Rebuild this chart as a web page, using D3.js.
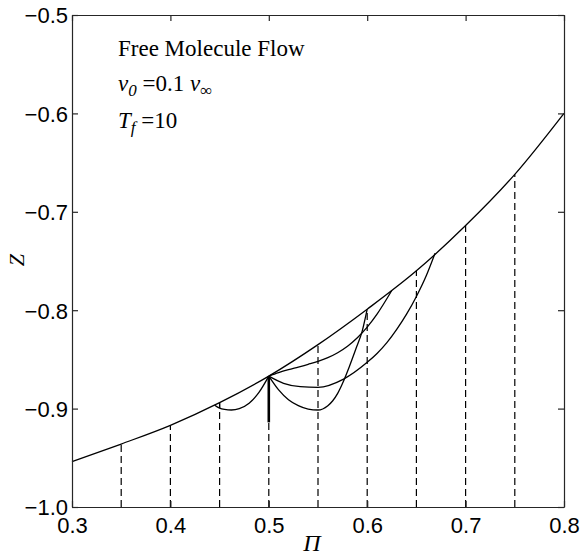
<!DOCTYPE html>
<html>
<head>
<meta charset="utf-8">
<script src="https://cdn.jsdelivr.net/npm/d3@7"></script>
<style>
  body { margin: 0; background: #fff; }
  svg { display: block; }
</style>
</head>
<body>
<script>
// Chart data

// outer envelope curve
const piTop = [0.30, 0.35, 0.40, 0.45, 0.50, 0.55, 0.60, 0.65, 0.70, 0.75, 0.80];
const zTop = [-0.954, -0.936, -0.917, -0.894, -0.867, -0.835, -0.799, -0.760, -0.714, -0.662, -0.600];

// small arc 0.45 -> 0.5
const piArcA = [0.445, 0.45, 0.455, 0.462, 0.47, 0.48, 0.49, 0.50];
const zArcA = [-0.8965, -0.8995, -0.9008, -0.9014, -0.9000, -0.8945, -0.8835, -0.867];

// deep arc 0.5 -> 0.6
const piArcB = [0.50, 0.51, 0.52, 0.53, 0.54, 0.55, 0.56, 0.565, 0.57, 0.576, 0.582, 0.589, 0.595, 0.60];
const zArcB = [-0.867, -0.881, -0.891, -0.897, -0.9005, -0.9014, -0.897, -0.892, -0.8845, -0.872, -0.857, -0.838, -0.821, -0.799];

// middle arc 0.5 -> 0.67
const piArcC = [0.50, 0.515, 0.532, 0.55, 0.576, 0.60, 0.61, 0.62, 0.63, 0.64, 0.65, 0.66, 0.669];
const zArcC = [-0.867, -0.8743, -0.8777, -0.8784, -0.870, -0.853, -0.844, -0.833, -0.8195, -0.804, -0.786, -0.765, -0.742];

// gentle arc 0.5 -> 0.625
const piArcD = [0.50, 0.51, 0.52, 0.53, 0.54, 0.55, 0.56, 0.57, 0.58, 0.59, 0.60, 0.61, 0.625];
const zArcD = [-0.867, -0.8635, -0.8605, -0.8578, -0.855, -0.852, -0.8482, -0.8432, -0.8366, -0.828, -0.8172, -0.804, -0.780];

// dashed verticals
const piDash = [0.35, 0.40, 0.45, 0.50, 0.55, 0.60, 0.65, 0.70, 0.75];
// solid segments at the launch points
const piSolid = [0.45, 0.50];
const zSolidLow = [-0.8995, -0.914];

const xTicks = [0.3, 0.4, 0.5, 0.6, 0.7, 0.8];
const yTicks = [-1.0, -0.9, -0.8, -0.7, -0.6, -0.5];

// SVG setup
const width = 582;
const height = 555;
const margin = {top: 15, right: 18, bottom: 48, left: 72};

const svg = d3.select('body')
.append('svg')
.attr('width', width)
.attr('height', height);

const xScale = d3.scaleLinear()
.domain([0.3, 0.8])
.range([margin.left, width - margin.right]);

const yScale = d3.scaleLinear()
.domain([-1.0, -0.5])
.range([height - margin.bottom, margin.top]);

const topAt = d3.scaleLinear().domain(piTop).range(zTop);

const line = d3.line()
.x(d => xScale(d[0]))
.y(d => yScale(d[1]))
.curve(d3.curveMonotoneX);

const zip = (a, b) => a.map((v, i) => [v, b[i]]);

// dashed verticals
svg.append('g')
.selectAll('line')
.data(piDash)
.enter()
.append('line')
.attr('x1', d => xScale(d))
.attr('x2', d => xScale(d))
.attr('y1', yScale(-1.0))
.attr('y2', d => yScale(topAt(d)))
.attr('stroke', '#000')
.attr('stroke-width', 1.2)
.attr('stroke-dasharray', '7,4');

// solid launch segments
svg.append('g')
.selectAll('line')
.data(piSolid)
.enter()
.append('line')
.attr('x1', d => xScale(d))
.attr('x2', d => xScale(d))
.attr('y1', d => yScale(topAt(d)))
.attr('y2', (d, i) => yScale(zSolidLow[i]))
.attr('stroke', '#000')
.attr('stroke-width', (d, i) => i === 1 ? 2.6 : 1.3);

// curves
const curves = [
  zip(piTop, zTop),
  zip(piArcA, zArcA),
  zip(piArcB, zArcB),
  zip(piArcC, zArcC),
  zip(piArcD, zArcD)
];

svg.append('g')
.selectAll('path')
.data(curves)
.enter()
.append('path')
.attr('d', line)
.attr('fill', 'none')
.attr('stroke', '#000')
.attr('stroke-width', 1.3);

// Axes box with inward ticks
const axisColor = '#262626';
const tickLen = 6;
const labelFont = '"Liberation Sans", Arial, Helvetica, sans-serif';

const axBottom = svg.append('g')
.attr('transform', `translate(0,${ yScale(-1.0) })`)
.call(d3.axisBottom(xScale).tickValues(xTicks).tickSizeInner(-tickLen).tickSizeOuter(0).tickFormat(d3.format('.1f')));
const axTop = svg.append('g')
.attr('transform', `translate(0,${ yScale(-0.5) })`)
.call(d3.axisTop(xScale).tickValues(xTicks).tickSizeInner(-tickLen).tickSizeOuter(0).tickFormat(''));
const axLeft = svg.append('g')
.attr('transform', `translate(${ xScale(0.3) },0)`)
.call(d3.axisLeft(yScale).tickValues(yTicks).tickSizeInner(-tickLen).tickSizeOuter(0).tickFormat(d3.format('.1f')));
const axRight = svg.append('g')
.attr('transform', `translate(${ xScale(0.8) },0)`)
.call(d3.axisRight(yScale).tickValues(yTicks).tickSizeInner(-tickLen).tickSizeOuter(0).tickFormat(''));

[axBottom, axTop, axLeft, axRight].forEach(ax => {
  ax.select('.domain').attr('stroke', axisColor).attr('stroke-width', 1.2);
  ax.selectAll('.tick line').attr('stroke', axisColor).attr('stroke-width', 1.2);
  ax.selectAll('.tick text')
  .attr('fill', '#000')
  .attr('font-family', labelFont)
  .attr('font-size', '22px');
});

axBottom.selectAll('.tick text').attr('y', 10).attr('dy', '0.71em');
axLeft.selectAll('.tick text').attr('x', -4).attr('dy', '0.36em');

// Axis titles
const serif = '"Liberation Serif", "Times New Roman", Times, serif';

svg.append('text')
.attr('x', 312)
.attr('y', 551)
.attr('text-anchor', 'middle')
.attr('font-family', serif)
.attr('font-style', 'italic')
.attr('font-size', '24px')
.text('Π');

svg.append('text')
.attr('transform', `translate(24,${ 260 }) rotate(-90)`)
.attr('text-anchor', 'middle')
.attr('font-family', serif)
.attr('font-style', 'italic')
.attr('font-size', '22px')
.text('Z');

// Annotation
const note = svg.append('g')
.attr('font-family', serif)
.attr('font-size', '23px')
.attr('fill', '#000');

note.append('text')
.attr('x', 118)
.attr('y', 56)
.text('Free Molecule Flow');

const t2 = note.append('text').attr('x', 118).attr('y', 91);
t2.append('tspan').attr('font-style', 'italic').text('v');
t2.append('tspan').attr('font-style', 'italic').attr('font-size', '17px').attr('dy', 5).text('0');
t2.append('tspan').attr('dy', -5).text(' =0.1 ');
t2.append('tspan').attr('font-style', 'italic').text('v');
t2.append('tspan').attr('font-size', '17px').attr('dy', 5).text('∞');

const t3 = note.append('text').attr('x', 118).attr('y', 128);
t3.append('tspan').attr('font-style', 'italic').text('T');
t3.append('tspan').attr('font-style', 'italic').attr('font-size', '17px').attr('dy', 5).text('f');
t3.append('tspan').attr('dy', -5).text(' =10');
</script>
</body>
</html>
